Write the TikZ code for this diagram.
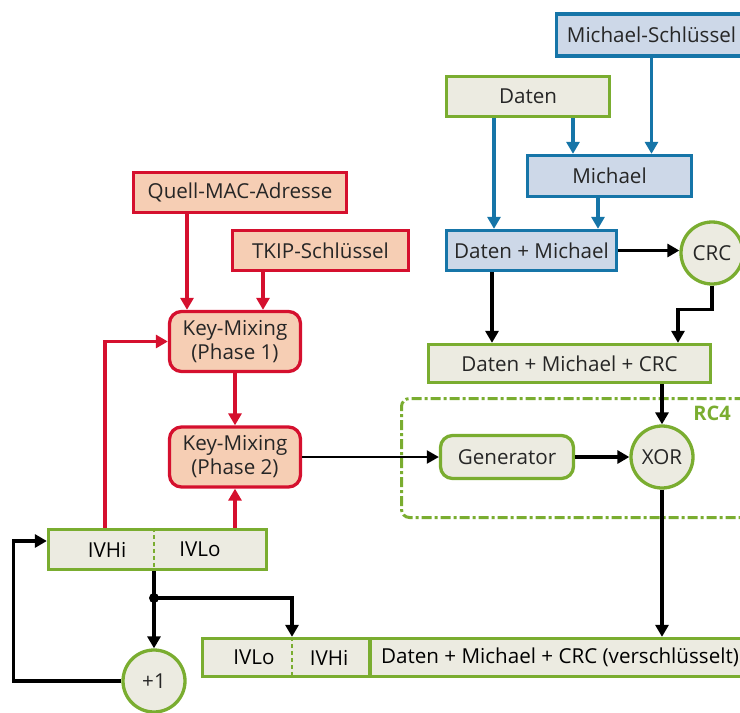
\documentclass[tikz,border=0pt]{standalone}
\usepackage{fontspec}
\setmainfont{Open Sans}
\usetikzlibrary{arrows.meta, positioning, calc, shapes.misc}

\definecolor{micblue}{RGB}{22,117,168}
\definecolor{micfill}{RGB}{205,216,232}
\definecolor{datgreen}{RGB}{122,173,48}
\definecolor{datfill}{RGB}{236,235,225}
\definecolor{keyred}{RGB}{213,16,46}
\definecolor{keyfill}{RGB}{246,206,180}

\begin{document}
\begin{tikzpicture}[x=1pt, y=-1pt,
    font=\fontsize{20.6}{24}\selectfont,
    box/.style={draw, line width=3.3pt, inner sep=0pt, text=black!85, align=center},
    bluebox/.style={box, draw=micblue, fill=micfill},
    greenbox/.style={box, draw=datgreen, fill=datfill},
    redbox/.style={box, draw=keyred, fill=keyfill},
    redround/.style={redbox, rounded corners=12pt},
    greenround/.style={greenbox, rounded corners=12pt},
    greencircle/.style={greenbox, circle, minimum size=62pt},
    arr/.style={line width=3.5pt, -{Triangle[length=12pt, width=13pt]}},
    bluearr/.style={arr, micblue},
    redarr/.style={arr, keyred},
    divider/.style={draw=datgreen, line width=2pt, dash pattern=on 4pt off 3pt},
    rc4frame/.style={draw=datgreen, line width=3pt, rounded corners=8pt,
        dash pattern=on 10pt off 3pt on 3pt off 3pt}
]
    \useasboundingbox (0,0) rectangle (740,713);

    % Michael branch (top right)
    \node[bluebox, minimum width=190pt, minimum height=42pt] (mkey) at (651.5,35) {Michael-Schlüssel};
    \node[greenbox, minimum width=163pt, minimum height=40pt] (daten) at (528,96.5) {Daten};
    \node[bluebox, minimum width=164pt, minimum height=41pt] (michael) at (609.5,176) {Michael};
    \node[bluebox, minimum width=170pt, minimum height=40pt] (dm) at (531.5,250.5) {Daten + Michael};
    \node[greencircle] (crc) at (712,253) {CRC};
    \node[greenbox, minimum width=282pt, minimum height=38pt] (dmc) at (569.5,363.5) {Daten + Michael + CRC};

    \draw[bluearr] (mkey.south) -- (mkey.south |- michael.north);
    \draw[bluearr] ([xshift=45pt]daten.south) -- ([xshift=45pt]daten.south |- michael.north);
    \draw[bluearr] ([xshift=-34pt]daten.south) -- ([xshift=-34pt]daten.south |- dm.north);
    \draw[bluearr] ([xshift=-11.5pt]michael.south) -- ([xshift=-11.5pt]michael.south |- dm.north);
    \draw[arr] (dm.east) -- (dm.east -| crc.west);
    \draw[arr] ([xshift=-39.5pt]dm.south) -- ([xshift=-39.5pt]dm.south |- dmc.north);
    \draw[arr] (crc.south) -- ++(0,24) -| ([xshift=108.5pt]dmc.north);

    % RC4
    \node[rc4frame, minimum width=370pt, minimum height=119pt] (rc4) at (586.5,458) {};
    \node[font=\fontsize{20}{24}\selectfont\bfseries, text=datgreen] (rc4label) at (712,413) {RC4};
    \node[greenround, minimum width=133pt, minimum height=43pt] (gen) at (507,457) {Generator};
    \node[greencircle] (xor) at (662,457) {XOR};

    \draw[arr] (dmc.south -| xor) -- (xor.north);
    \draw[arr] (gen.east) -- (xor.west);

    % Key-Mixing (left)
    \node[redbox, minimum width=213pt, minimum height=40pt] (quell) at (240,192.5) {Quell-MAC-Adresse};
    \node[redbox, minimum width=176pt, minimum height=40pt] (tkip) at (320.5,250.5) {TKIP-Schlüssel};
    \node[redround, minimum width=131pt, minimum height=60pt] (ph1) at (235,341.5) {Key-Mixing\\(Phase 1)};
    \node[redround, minimum width=131pt, minimum height=60pt] (ph2) at (235,457) {Key-Mixing\\(Phase 2)};

    \draw[redarr] ([xshift=-53pt]quell.south) -- ([xshift=-53pt]quell.south |- ph1.north);
    \draw[redarr] ([xshift=-57.5pt]tkip.south) -- ([xshift=-57.5pt]tkip.south |- ph1.north);
    \draw[redarr] (ph1) -- (ph2);
    \draw[arr, line width=2.2pt] (ph2.east) -- (gen.west);

    % IV counter
    \node[greenbox, minimum width=218pt, minimum height=40pt] (ivbar) at (157.5,549.5) {};
    \node (ivhi) at (107,549.5) {IVHi};
    \node (ivlo) at (200,549.5) {IVLo};
    \coordinate (ivcut) at (154,549.5);
    \draw[divider] (ivcut |- ivbar.north) -- (ivcut |- ivbar.south);
    \node[greencircle] (plus1) at (154,681) {+1};
    \coordinate (split) at (154,598);

    \draw[redarr] (ivbar.north -| ph2) -- (ph2.south);
    \draw[redarr] ([xshift=-52.5pt]ivbar.north) |- (ph1.west);
    \draw[arr] (ivcut |- ivbar.south) -- (plus1.north);
    \fill (split) circle (5);
    \draw[arr] (plus1.west) -- ++(-108,0) |- ([yshift=8.5pt]ivbar.west);

    % encrypted output
    \node[greenbox, minimum width=560pt, minimum height=38pt, anchor=west] (outbar) at (200.5,657.5) {};
    \node (outlo) at (254,657.5) {IVLo};
    \node (outhi) at (329,657.5) {IVHi};
    \node (outdata) at (560,657.5) {Daten + Michael + CRC (verschlüsselt)};
    \coordinate (cut1) at (292,657.5);
    \coordinate (cut2) at (370,657.5);
    \draw[divider] (cut1 |- outbar.north) -- (cut1 |- outbar.south);
    \draw[draw=datgreen, line width=3.3pt] (cut2 |- outbar.north) -- (cut2 |- outbar.south);

    \draw[arr] (split) -| (cut1 |- outbar.north);
    \draw[arr] (xor.south) -- (xor.south |- outbar.north);
\end{tikzpicture}
\end{document}
